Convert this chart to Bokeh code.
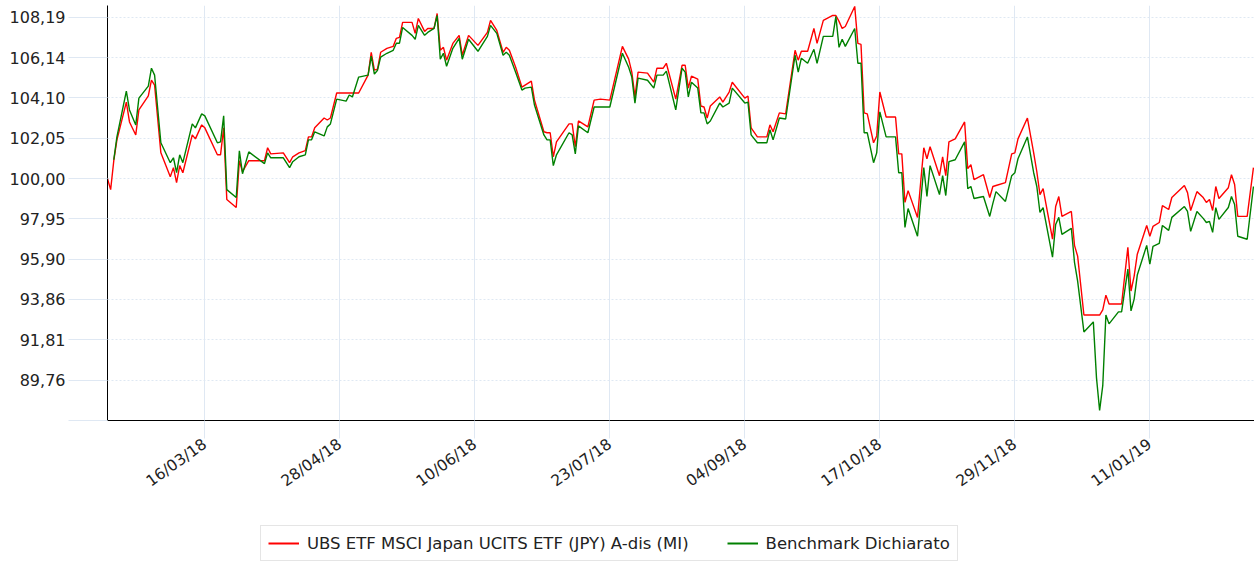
import pandas as pd
from bokeh.plotting import figure
from bokeh.layouts import column
from bokeh.models import (ColumnDataSource, Range1d, FixedTicker, DatetimeTickFormatter,
                          CustomJSTickFormatter, Legend, LegendItem)
from bokeh.embed import file_html
from bokeh.resources import INLINE

dates = [
    "2018-02-13","2018-02-14","2018-02-15","2018-02-16","2018-02-19","2018-02-20","2018-02-22","2018-02-23",
    "2018-02-26","2018-02-27","2018-02-28","2018-03-02","2018-03-05","2018-03-06","2018-03-07","2018-03-08",
    "2018-03-09","2018-03-12","2018-03-13","2018-03-15","2018-03-16","2018-03-20","2018-03-21","2018-03-22",
    "2018-03-23","2018-03-26","2018-03-27","2018-03-28","2018-03-30","2018-04-04","2018-04-05","2018-04-06",
    "2018-04-10","2018-04-12","2018-04-13","2018-04-15","2018-04-17","2018-04-18","2018-04-19","2018-04-20",
    "2018-04-23","2018-04-24","2018-04-25","2018-04-27","2018-04-30","2018-05-01","2018-05-02","2018-05-04",
    "2018-05-07","2018-05-08","2018-05-09","2018-05-10","2018-05-11","2018-05-13","2018-05-15","2018-05-16",
    "2018-05-17","2018-05-18","2018-05-21","2018-05-22","2018-05-23","2018-05-25","2018-05-26","2018-05-28",
    "2018-05-29","2018-05-30","2018-05-31","2018-06-01","2018-06-03","2018-06-05","2018-06-06","2018-06-08",
    "2018-06-11","2018-06-14","2018-06-15","2018-06-17","2018-06-19","2018-06-20","2018-06-21","2018-06-23",
    "2018-06-25","2018-06-26","2018-06-28","2018-06-29","2018-07-02","2018-07-03","2018-07-04","2018-07-05",
    "2018-07-06","2018-07-10","2018-07-11","2018-07-12","2018-07-13","2018-07-16","2018-07-18","2018-07-20",
    "2018-07-23","2018-07-27","2018-07-29","2018-07-30","2018-07-31","2018-08-01","2018-08-04","2018-08-06",
    "2018-08-07","2018-08-09","2018-08-10","2018-08-13","2018-08-15","2018-08-16","2018-08-17","2018-08-18",
    "2018-08-20","2018-08-21","2018-08-22","2018-08-23","2018-08-24","2018-08-27","2018-08-28","2018-08-30",
    "2018-08-31","2018-09-04","2018-09-05","2018-09-06","2018-09-08","2018-09-11","2018-09-12","2018-09-13",
    "2018-09-15","2018-09-17","2018-09-20","2018-09-21","2018-09-22","2018-09-24","2018-09-26","2018-09-27",
    "2018-09-29","2018-10-02","2018-10-03","2018-10-04","2018-10-05","2018-10-06","2018-10-09","2018-10-10",
    "2018-10-11","2018-10-12","2018-10-13","2018-10-15","2018-10-16","2018-10-17","2018-10-19","2018-10-22",
    "2018-10-23","2018-10-24","2018-10-25","2018-10-26","2018-10-29","2018-10-31","2018-11-01","2018-11-02",
    "2018-11-05","2018-11-06","2018-11-07","2018-11-08","2018-11-10","2018-11-13","2018-11-14","2018-11-15",
    "2018-11-16","2018-11-19","2018-11-21","2018-11-22","2018-11-23","2018-11-26","2018-11-28","2018-11-29",
    "2018-11-30","2018-12-03","2018-12-05","2018-12-06","2018-12-07","2018-12-08","2018-12-11","2018-12-12",
    "2018-12-13","2018-12-14","2018-12-17","2018-12-18","2018-12-19","2018-12-21","2018-12-24","2018-12-25",
    "2018-12-26","2018-12-27","2018-12-28","2018-12-29","2019-01-01","2019-01-02","2019-01-04","2019-01-05",
    "2019-01-06","2019-01-07","2019-01-10","2019-01-11","2019-01-12","2019-01-14","2019-01-15","2019-01-17",
    "2019-01-18","2019-01-22","2019-01-23","2019-01-24","2019-01-26","2019-01-28","2019-01-29","2019-01-30",
    "2019-01-31","2019-02-01","2019-02-02","2019-02-05","2019-02-06","2019-02-07","2019-02-08","2019-02-11",
    "2019-02-13",
]

fund = [
    100.00, 99.44, 100.91, 101.97, 103.89, 102.88, 102.22, 103.49,
    104.20, 105.00, 104.75, 101.31, 100.10, 100.56, 99.80, 100.66,
    100.30, 102.22, 102.02, 102.73, 102.58, 101.21, 101.21, 102.58,
    98.94, 98.53, 100.91, 100.35, 100.91, 100.91, 101.57, 101.26,
    101.31, 100.81, 101.11, 101.31, 101.42, 102.12, 102.12, 102.58,
    103.08, 102.98, 103.08, 104.35, 104.35, 104.35, 104.35, 104.35,
    105.26, 106.42, 105.51, 105.56, 106.42, 106.62, 106.72, 107.13,
    107.18, 107.94, 107.94, 107.38, 108.14, 107.48, 107.63, 107.63,
    108.39, 106.52, 106.67, 106.02, 106.87, 107.28, 106.27, 107.28,
    106.77, 107.43, 108.04, 107.53, 106.42, 106.67, 106.52, 105.66,
    104.65, 104.75, 104.95, 103.99, 102.38, 102.33, 102.33, 101.11,
    101.87, 102.78, 102.78, 101.62, 102.93, 102.63, 103.99, 104.04,
    103.99, 106.72, 106.07, 105.41, 104.15, 105.41, 105.36, 104.90,
    105.61, 105.61, 105.86, 104.04, 105.76, 105.76, 104.60, 105.21,
    105.06, 103.69, 103.64, 103.08, 103.69, 104.15, 103.89, 104.40,
    104.90, 104.09, 104.20, 102.58, 102.12, 102.12, 102.73, 102.38,
    103.34, 103.29, 106.52, 106.02, 106.47, 106.47, 107.63, 106.87,
    108.04, 108.29, 108.29, 107.99, 107.63, 107.73, 108.75, 106.87,
    106.82, 103.34, 103.29, 101.82, 102.17, 104.40, 103.13, 103.13,
    101.26, 101.26, 98.79, 99.39, 98.03, 101.57, 101.01, 101.62,
    100.15, 101.11, 100.15, 101.87, 102.02, 102.88, 100.51, 100.71,
    99.95, 100.20, 99.04, 99.60, 99.65, 99.80, 101.26, 101.31,
    102.02, 103.08, 101.31, 100.35, 99.19, 99.49, 96.92, 98.58,
    99.09, 98.08, 98.33, 96.61, 96.06, 93.07, 93.07, 93.07,
    93.07, 93.33, 94.08, 93.63, 93.63, 93.63, 96.51, 94.29,
    95.05, 96.16, 97.62, 97.07, 97.57, 97.77, 98.63, 98.43,
    99.04, 99.65, 99.29, 98.38, 99.34, 99.04, 98.79, 98.94,
    98.38, 99.60, 98.99, 99.54, 100.20, 99.70, 98.08, 98.08,
    100.56,
]

benchmark = [
    None, None, 100.96, 102.12, 104.45, 103.49, 102.73, 104.09,
    104.70, 105.61, 105.26, 101.82, 100.81, 101.06, 100.30, 101.21,
    100.81, 102.78, 102.58, 103.29, 103.19, 101.82, 101.87, 103.19,
    99.44, 99.04, 101.41, 100.25, 101.36, 100.76, 101.31, 101.06,
    101.06, 100.56, 100.86, 101.11, 101.21, 101.97, 101.97, 102.38,
    102.17, 102.63, 102.78, 104.04, 103.94, 104.25, 104.15, 105.16,
    105.26, 106.22, 105.31, 105.51, 106.17, 106.37, 106.52, 106.88,
    106.88, 107.68, 107.28, 107.08, 107.79, 107.28, 107.43, 107.63,
    108.29, 106.07, 106.37, 105.71, 106.62, 107.13, 106.07, 107.08,
    106.47, 107.23, 107.79, 107.38, 106.27, 106.42, 106.27, 105.41,
    104.50, 104.60, 104.65, 103.74, 102.22, 101.97, 101.97, 100.66,
    101.21, 102.33, 102.22, 101.26, 102.68, 102.33, 103.64, 103.64,
    103.64, 106.37, 105.66, 105.16, 103.84, 105.11, 105.00, 104.60,
    105.26, 105.26, 105.46, 103.49, 105.61, 105.41, 104.15, 104.90,
    104.60, 103.34, 103.34, 102.78, 102.93, 103.84, 103.64, 103.84,
    104.60, 103.84, 103.89, 102.22, 101.82, 101.82, 102.48, 101.97,
    103.08, 103.03, 106.27, 105.41, 106.12, 105.86, 106.57, 105.86,
    107.23, 107.23, 108.24, 106.67, 107.08, 106.72, 107.63, 105.86,
    105.86, 102.33, 102.33, 100.81, 101.31, 103.39, 102.12, 102.12,
    100.30, 100.30, 97.52, 98.48, 97.07, 100.56, 99.09, 100.66,
    99.19, 100.15, 99.14, 100.86, 100.96, 101.87, 99.49, 99.60,
    98.99, 99.09, 98.08, 98.74, 99.34, 98.84, 100.15, 100.30,
    101.01, 102.12, 100.30, 99.60, 98.28, 98.53, 96.01, 97.67,
    98.03, 97.17, 97.47, 95.75, 94.79, 92.21, 92.72, 89.89,
    88.22, 89.48, 93.07, 92.62, 93.23, 93.23, 95.40, 93.28,
    93.88, 95.10, 96.61, 95.65, 96.56, 96.71, 97.62, 97.37,
    98.03, 98.58, 98.33, 97.32, 98.33, 97.98, 97.77, 97.83,
    97.27, 98.53, 97.93, 98.53, 99.09, 98.68, 97.07, 96.92,
    99.60,
]

x_tick_dates = ["2018-03-16", "2018-04-28", "2018-06-10", "2018-07-23",
                "2018-09-04", "2018-10-17", "2018-11-29", "2019-01-11"]
y_ticks = [87.71, 89.76, 91.81, 93.86, 95.90, 97.95, 100.00, 102.05, 104.10, 106.14, 108.19]

series_names = ["UBS ETF MSCI Japan UCITS ETF (JPY) A-dis (MI)", "Benchmark Dichiarato"]
series_colors = ["#ff0000", "#008000"]

df = pd.DataFrame({
    "date": pd.to_datetime(dates),
    "fund": fund,
    "bench": [float("nan") if v is None else v for v in benchmark],
})
src = ColumnDataSource(df)

FONT = "DejaVu Sans"
GRID = "#dfe8f3"
TEXT = "#222222"

xr = Range1d(pd.Timestamp("2018-02-13"), pd.Timestamp("2019-02-13 08:00"))

# ---- main chart ----
p = figure(width=1254, height=500, x_axis_type="datetime",
           output_backend="svg", toolbar_location=None,
           x_range=xr, y_range=Range1d(87.71, 108.797),
           min_border_left=107, min_border_right=0, min_border_top=5, min_border_bottom=78)
p.outline_line_color = None
p.background_fill_color = "white"
p.border_fill_color = "white"

p.line("date", "fund", source=src, line_color=series_colors[0], line_width=1.4)
p.line("date", "bench", source=src, line_color=series_colors[1], line_width=1.4)

tick_ms = [pd.Timestamp(d).value / 1e6 for d in x_tick_dates]
p.xaxis.ticker = FixedTicker(ticks=tick_ms)
fmt = "%d/%m/%y"
p.xaxis.formatter = DatetimeTickFormatter(days=fmt, months=fmt, years=fmt, hours=fmt,
                                          hourmin=fmt, minutes=fmt, minsec=fmt, seconds=fmt,
                                          milliseconds=fmt, microseconds=fmt)
p.xaxis.major_label_orientation = 0.62
p.xaxis.major_tick_out = 18
p.xaxis.major_tick_in = 0
p.xaxis.minor_tick_line_color = None
p.xaxis.major_tick_line_color = GRID
p.xaxis.axis_line_color = "black"
p.xaxis.major_label_text_font = FONT
p.xaxis.major_label_text_font_size = "15.5px"
p.xaxis.major_label_text_color = TEXT
p.xaxis.major_label_standoff = 4

p.yaxis.ticker = FixedTicker(ticks=y_ticks)
p.yaxis.formatter = CustomJSTickFormatter(
    code="return tick < 88 ? '' : tick.toFixed(2).replace('.', ',');")
p.yaxis.major_tick_out = 39
p.yaxis.major_tick_in = 0
p.yaxis.minor_tick_line_color = None
p.yaxis.major_tick_line_color = GRID
p.yaxis.axis_line_color = "black"
p.yaxis.major_label_text_font = FONT
p.yaxis.major_label_text_font_size = "16px"
p.yaxis.major_label_text_color = TEXT
p.yaxis.major_label_standoff = 3

p.xgrid.grid_line_color = GRID
p.xgrid.grid_line_width = 1
p.ygrid.grid_line_color = GRID
p.ygrid.grid_line_dash = "2 2"
p.ygrid.grid_line_width = 1

# ---- legend strip (series drawn out of view; only the legend shows) ----
lg = figure(width=1254, height=62, output_backend="svg", toolbar_location=None,
            x_range=xr, y_range=Range1d(0, 1),
            x_axis_location=None, y_axis_location=None,
            min_border_left=107, min_border_right=0, min_border_top=0, min_border_bottom=0)
lg.outline_line_color = None
lg.xgrid.visible = False
lg.ygrid.visible = False
key_fund = lg.line("date", "fund", source=src, line_color=series_colors[0], line_width=2)
key_bench = lg.line("date", "bench", source=src, line_color=series_colors[1], line_width=2)

legend = Legend(items=[LegendItem(label=series_names[0], renderers=[key_fund]),
                       LegendItem(label=series_names[1], renderers=[key_bench])],
                orientation="horizontal", location=(153, 1))
legend.label_text_font = FONT
legend.label_text_font_size = "16.5px"
legend.label_text_color = TEXT
legend.glyph_width = 31
legend.glyph_height = 20
legend.label_standoff = 8
legend.spacing = 38
legend.padding = 7
legend.margin = 0
legend.border_line_color = "#cccccc"
legend.border_line_width = 1
legend.background_fill_color = "white"
legend.background_fill_alpha = 1
lg.add_layout(legend, "center")

layout = column(p, lg, spacing=0)
open("out.html", "w").write(file_html(layout, INLINE))
